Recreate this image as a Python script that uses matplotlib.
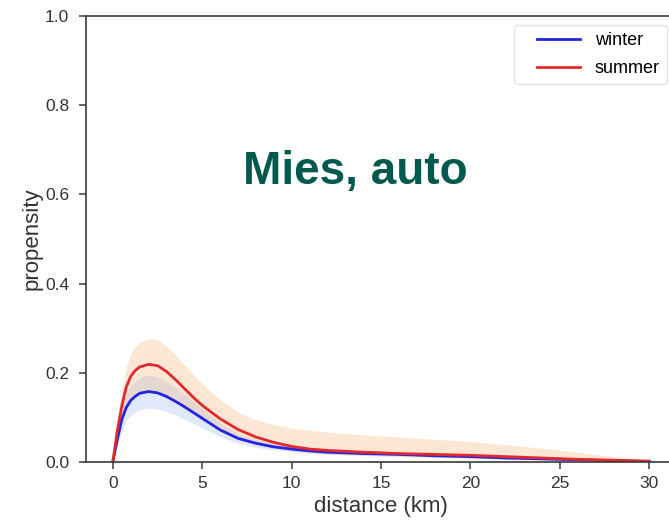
import matplotlib
matplotlib.use('Agg')
import matplotlib.pyplot as plt
from matplotlib.lines import Line2D
from matplotlib.legend_handler import HandlerLine2D

# distance grid (km) and values
dist = [0, 0.25, 0.5, 0.75, 1, 1.25, 1.5, 2, 2.5, 3, 3.5, 4, 4.5, 5, 6, 7, 8, 9, 10,
        11, 12, 14, 16, 18, 20, 22, 24, 26, 28, 30]

winter = [0, 0.05, 0.095, 0.122, 0.138, 0.147, 0.154, 0.158, 0.155, 0.147, 0.136, 0.124,
          0.111, 0.098, 0.072, 0.053, 0.042, 0.034, 0.029, 0.025, 0.022, 0.019, 0.017,
          0.014, 0.012, 0.009, 0.007, 0.005, 0.003, 0.001]
winter_lo = [0, 0.036, 0.07, 0.092, 0.105, 0.112, 0.117, 0.121, 0.119, 0.113, 0.105, 0.096,
             0.086, 0.077, 0.057, 0.042, 0.033, 0.027, 0.023, 0.020, 0.018, 0.015, 0.013,
             0.011, 0.009, 0.007, 0.005, 0.003, 0.002, 0.0005]
winter_hi = [0, 0.064, 0.118, 0.152, 0.170, 0.181, 0.189, 0.195, 0.191, 0.181, 0.167, 0.152,
             0.136, 0.120, 0.088, 0.064, 0.051, 0.041, 0.035, 0.030, 0.027, 0.023, 0.021,
             0.017, 0.015, 0.011, 0.009, 0.006, 0.004, 0.0015]

summer = [0, 0.07, 0.125, 0.168, 0.192, 0.205, 0.213, 0.219, 0.216, 0.203, 0.185, 0.165,
          0.145, 0.127, 0.097, 0.073, 0.056, 0.044, 0.035, 0.029, 0.026, 0.022, 0.019,
          0.017, 0.015, 0.012, 0.009, 0.006, 0.004, 0.002]
summer_lo = [0, 0.052, 0.094, 0.125, 0.142, 0.151, 0.157, 0.160, 0.158, 0.149, 0.136, 0.121,
             0.107, 0.094, 0.071, 0.053, 0.040, 0.031, 0.025, 0.020, 0.017, 0.014, 0.012,
             0.010, 0.008, 0.006, 0.005, 0.003, 0.002, 0.001]
summer_hi = [0, 0.09, 0.16, 0.212, 0.243, 0.259, 0.268, 0.277, 0.274, 0.260, 0.240, 0.218,
             0.196, 0.176, 0.140, 0.112, 0.095, 0.084, 0.076, 0.071, 0.067, 0.061, 0.056,
             0.051, 0.046, 0.039, 0.031, 0.022, 0.012, 0.003]

plt.rcParams['font.family'] = ['Liberation Sans', 'DejaVu Sans']
plt.rcParams['axes.edgecolor'] = '#3a3a3a'
plt.rcParams['axes.linewidth'] = 1.2
plt.rcParams['xtick.color'] = '#3a3a3a'
plt.rcParams['ytick.color'] = '#3a3a3a'
plt.rcParams['xtick.labelcolor'] = '#333333'
plt.rcParams['ytick.labelcolor'] = '#333333'

fig = plt.figure(figsize=(6.69, 5.23), dpi=100)
ax = fig.add_axes([86 / 669, 61 / 523, (676 - 86) / 669, 446 / 523])

ax.fill_between(dist, winter_lo, winter_hi, color='cornflowerblue', alpha=0.2, lw=0)
ax.fill_between(dist, summer_lo, summer_hi, color='sandybrown', alpha=0.26, lw=0)
ax.plot(dist, winter, color='#2424e0', lw=2, label='winter')
ax.plot(dist, summer, color='#e3292c', lw=2, label='summer')

ax.set_xlim(-1.5, 31.5)
ax.set_ylim(0, 1.0)
ax.set_xticks([0, 5, 10, 15, 20, 25, 30])
ax.set_yticks([0.0, 0.2, 0.4, 0.6, 0.8, 1.0])
ax.tick_params(labelsize=12.5, length=5, width=1.1, direction='out')
ax.tick_params(axis='y', pad=7)
ax.tick_params(axis='x', pad=5)
ax.set_xlabel('distance (km)', fontsize=16, color='#333333')
ax.set_ylabel('propensity', fontsize=16, color='#333333', labelpad=2)

ax.legend(loc='upper right', fontsize=13, handlelength=3.3, handletextpad=0.8,
          labelspacing=0.6, borderaxespad=0.5, edgecolor='#dddddd',
          handler_map={Line2D: HandlerLine2D(xpad=0.9)})

fig.text(355 / 669, 1 - 172 / 523, 'Mies, auto', fontsize=33, fontweight='bold',
         color='#00594f', ha='center', va='center')

fig.savefig('out.png', dpi=100)
